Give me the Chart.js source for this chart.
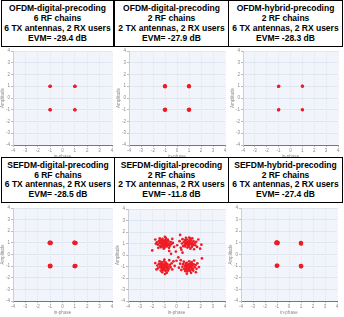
<!DOCTYPE html>
<html>
<head>
<meta charset="utf-8">
<script src="https://cdn.jsdelivr.net/npm/chart.js@4"></script>
<style>
body{margin:0;background:#fff;width:344px;height:317px;overflow:hidden;position:relative;font-family:"Liberation Sans",Arial,sans-serif}
.ttl{position:absolute;box-sizing:border-box;border:1.5px solid #000;background:#fff;font-weight:bold;font-size:8.5px;text-align:center;color:#000;white-space:nowrap}
.pl{position:absolute}
</style>
</head>
<body>
<script>
// panel titles
const titles = [
  ['OFDM-digital-precoding', '6 RF chains', '6 TX antennas, 2 RX users', 'EVM= -29.4 dB'],
  ['OFDM-digital-precoding', '2 RF chains', '2 TX antennas, 2 RX users', 'EVM= -27.9 dB'],
  ['OFDM-hybrid-precoding', '2 RF chains', '6 TX antennas, 2 RX users', 'EVM= -28.3 dB'],
  ['SEFDM-digital-precoding', '6 RF chains', '6 TX antennas, 2 RX users', 'EVM= -28.5 dB'],
  ['SEFDM-digital-precoding', '2 RF chains', '2 TX antennas, 2 RX users', 'EVM= -11.8 dB'],
  ['SEFDM-hybrid-precoding', '2 RF chains', '6 TX antennas, 2 RX users', 'EVM= -27.4 dB']
];
const axisTicks = [-4, -3, -2, -1, 0, 1, 2, 3, 4];

// received symbols, [in-phase, amplitude]
const ofdmDig6 = [
  [-1.00,1.00],[-0.98,1.02],[-1.02,0.99],
  [1.00,1.00],[1.02,1.01],[0.98,0.99],
  [-1.00,-1.00],[-1.02,-0.99],[-0.98,-1.01],
  [1.00,-1.00],[1.01,-1.02],[0.99,-0.98]
];
const ofdmDig2 = [
  [-1.00,1.00],[-0.96,1.03],[-1.04,0.97],[-0.97,0.96],[-1.03,1.04],
  [1.00,1.00],[1.04,1.03],[0.96,0.97],[1.03,0.96],[0.97,1.04],
  [-1.00,-1.00],[-1.04,-0.97],[-0.96,-1.03],[-1.03,-1.04],[-0.97,-0.96],
  [1.00,-1.00],[1.04,-1.03],[0.96,-0.97],[1.03,-0.96],[0.97,-1.04]
];
const ofdmHyb2 = [
  [-1.00,1.00],[-0.98,1.02],[-1.02,0.98],
  [1.00,1.02],[1.02,1.00],[0.98,1.03],
  [-1.00,-1.00],[-0.98,-0.98],[-1.02,-1.02],
  [1.00,-1.00],[1.02,-1.01],[0.98,-0.99]
];
const sefdmDig6 = [
  [-1.00,1.00],[-0.94,1.04],[-1.05,0.96],[-0.96,0.94],[-1.04,1.06],[-0.93,0.98],[-1.06,1.02],
  [1.00,1.00],[1.06,1.03],[0.95,0.96],[1.05,0.94],[0.94,1.05],[1.08,1.00],[0.97,1.06],
  [-1.00,-0.98],[-1.05,-0.95],[-0.95,-1.04],[-1.04,-1.05],[-0.96,-0.93],[-1.02,-1.00],
  [1.00,-0.98],[1.05,-0.94],[0.95,-1.03],[1.03,-1.04],[0.97,-0.95],[1.07,-0.99]
];
const sefdmDig2 = [
  [-1.00,1.00],[-0.92,1.08],[-1.10,0.95],[-1.05,1.15],[-0.85,0.92],[-1.18,1.05],[-0.95,0.82],[-1.12,0.85],
  [-0.88,1.20],[-1.25,0.98],[-0.78,1.02],[-1.02,1.25],[-1.30,1.15],[-0.70,0.88],[-1.08,0.72],[-0.90,1.32],
  [-1.35,0.80],[-0.65,1.18],[-1.20,1.30],[-0.80,0.75],[-1.40,1.02],[-0.98,0.65],[-1.15,1.40],[-0.60,0.98],
  [-1.45,1.22],[-0.72,1.35],[-1.28,0.68],[-0.55,0.80],[-1.55,0.90],[-0.88,1.48],[-1.62,1.10],[-0.48,1.12],
  [-1.05,0.55],[-1.38,1.45],[-0.62,0.62],[-1.70,0.98],[-0.42,0.95],[-0.95,1.58],[-1.50,0.62],[-0.30,1.05],
  [-0.20,0.70],[-0.60,0.35],[-1.75,1.35],[0.05,0.85],[-0.35,1.40],[-1.03,0.90],[-0.97,1.10],[-1.12,1.12],[-0.86,1.06],
  [-1.20,0.80],[-0.75,1.25],[-1.35,1.28],[-0.82,0.85],[-1.22,1.18],
  [1.00,1.05],[1.08,0.98],[0.92,1.12],[1.15,1.10],[0.85,0.95],[1.05,1.22],[0.95,0.85],[1.22,0.92],
  [0.80,1.18],[1.18,1.28],[0.75,1.02],[1.28,1.05],[1.02,0.72],[0.88,1.35],[1.35,0.88],[0.68,0.88],
  [1.12,1.42],[0.70,1.30],[1.40,1.20],[0.90,0.65],[1.25,0.70],[0.60,1.12],[1.48,1.02],[1.05,1.52],
  [0.55,0.78],[1.55,0.85],[0.78,1.50],[1.30,1.45],[0.45,1.00],[1.62,1.15],[1.15,0.55],[0.50,1.38],
  [1.70,0.70],[0.35,0.62],[1.95,0.55],[2.05,0.90],[0.25,1.20],[1.80,1.35],[0.40,0.45],[1.45,0.50],
  [0.98,1.00],[1.10,1.15],[0.94,1.08],[1.03,0.90],[1.20,1.02],[0.82,1.08],[1.30,0.80],[0.72,0.75],
  [-1.00,-0.95],[-0.92,-1.02],[-1.08,-0.88],[-1.12,-1.05],[-0.85,-0.90],[-1.05,-1.15],[-0.95,-0.78],[-1.20,-0.95],
  [-0.80,-1.10],[-1.15,-0.75],[-0.75,-0.82],[-1.25,-1.12],[-0.98,-1.25],[-0.68,-1.00],[-1.32,-0.88],[-1.10,-1.32],
  [-0.88,-0.65],[-1.38,-1.02],[-0.62,-1.18],[-1.22,-0.62],[-0.90,-1.40],[-1.45,-0.78],[-0.55,-0.85],[-1.30,-1.35],
  [-0.70,-1.35],[-1.02,-0.55],[-1.52,-1.15],[-0.48,-1.05],[-1.18,-1.50],[-0.80,-1.55],[-1.58,-0.92],[-0.40,-0.72],
  [-1.40,-0.55],[-0.95,-1.65],[-1.65,-1.25],[-0.35,-1.25],[-0.25,-0.55],[-1.75,-0.70],[-0.60,-0.45],[-0.15,-0.95],
  [-1.00,-0.40],[-1.04,-1.00],[-0.96,-0.90],[-1.08,-0.98],[-0.78,-1.20],[-1.18,-1.20],[-0.82,-0.78],[-1.28,-0.78],
  [1.00,-0.98],[1.08,-1.05],[0.92,-0.90],[1.15,-0.92],[0.88,-1.08],[1.05,-0.80],[0.95,-1.18],[1.22,-1.10],
  [0.80,-0.85],[1.18,-0.75],[0.75,-1.12],[1.30,-0.95],[1.02,-1.28],[0.70,-0.95],[1.35,-1.18],[0.85,-0.68],
  [1.12,-1.38],[0.62,-1.20],[1.42,-0.82],[0.90,-1.42],[1.25,-0.62],[0.55,-0.80],[1.50,-1.05],[0.72,-1.40],
  [1.38,-1.35],[1.05,-0.55],[0.48,-1.02],[1.58,-0.88],[1.20,-1.55],[0.60,-0.58],[1.65,-1.20],[0.40,-1.30],
  [1.72,-0.72],[0.85,-1.62],[0.30,-0.75],[1.85,-1.05],[0.20,-1.10],[1.45,-0.48],[0.35,-0.45],[1.60,-1.50],
  [0.98,-1.00],[1.10,-0.98],[0.94,-1.02],[1.04,-1.12],[0.80,-1.25],[1.25,-1.25],[0.78,-0.72],[1.30,-0.80],
  [-0.05,0.30],[0.15,-0.20],[-0.45,0.10],[0.50,0.20],[0.00,-0.50],[2.10,-0.30],[-2.00,0.40],[0.30,1.75]
];
const sefdmHyb2 = [
  [-1.00,1.00],[-0.93,1.05],[-1.07,0.95],[-0.95,0.93],[-1.05,1.07],[-0.92,0.98],[-1.08,1.02],[-1.00,1.08],
  [1.00,0.97],[1.04,1.01],[0.96,0.93],[1.03,0.91],[0.97,1.03],
  [-1.00,-0.95],[-1.04,-0.92],[-0.96,-0.99],[-1.03,-1.00],[-0.95,-0.93],
  [1.00,-1.00],[1.05,-1.04],[0.96,-0.96],[1.03,-0.95],[0.98,-1.06]
];
const panelData = [ofdmDig6, ofdmDig2, ofdmHyb2, sefdmDig6, sefdmDig2, sefdmHyb2];
const pointSize = [1.6, 1.7, 1.5, 1.8, 1.35, 1.8];

// layout: title boxes and plot areas [left, top, right, bottom]
const boxes = [[1,0,114,47],[114,0,229,47],[228,0,343,47],[1,157,115,203],[114,157,229,203],[228,157,343,203]];
const plots = [[13,49,113,145],[129,49,226,145],[243,49,339,145],[13,206,113,301],[128,207,226,301],[241,206,338,301]];

const plotBg = {
  id: 'plotBg',
  beforeDraw(chart) {
    const a = chart.chartArea, ctx = chart.ctx;
    ctx.save();
    ctx.fillStyle = '#f1f4fb';
    ctx.fillRect(a.left, a.top, a.width, a.height);
    ctx.restore();
  }
};

function axis(label, isX) {
  return {
    type: 'linear', min: -4, max: 4,
    afterBuildTicks: s => { s.ticks = axisTicks.map(v => ({ value: v })); },
    afterFit: s => { if (isX) s.height = 14; else s.width = 13; },
    ticks: { autoSkip: false, maxRotation: 0, padding: 1, color: '#888', font: { size: 4.5, family: 'Liberation Sans' } },
    grid: { color: '#dce3ee', lineWidth: 0.8, tickLength: 2, tickColor: '#aaa' },
    border: isX ? { display: true, color: '#777', dash: [1, 1] } : { display: true, color: '#c8cfda' },
    title: { display: true, text: label, color: '#888', padding: 0, font: { size: 4.5, family: 'Liberation Sans' } }
  };
}

titles.forEach((t, i) => {
  const b = boxes[i];
  const d = document.createElement('div');
  d.className = 'ttl';
  d.style.left = b[0] + 'px'; d.style.top = b[1] + 'px';
  d.style.width = (b[2] - b[0]) + 'px'; d.style.height = (b[3] - b[1]) + 'px';
  d.style.lineHeight = (i < 3 ? 9.9 : 9.5) + 'px';
  d.style.paddingTop = '3px';
  d.innerHTML = t.join('<br>');
  document.body.appendChild(d);

  const p = plots[i];
  const w = p[2] - p[0] + 13 + 3, h = p[3] - p[1] + 2 + 14;
  const box = document.createElement('div');
  box.className = 'pl';
  box.style.left = (p[0] - 13) + 'px'; box.style.top = (p[1] - 2) + 'px';
  const cv = document.createElement('canvas');
  cv.width = w; cv.height = h;
  box.appendChild(cv);
  document.body.appendChild(box);

  new Chart(cv, {
    type: 'scatter',
    data: {
      datasets: [{
        data: panelData[i].map(q => ({ x: q[0], y: q[1] })),
        backgroundColor: '#ee1d25',
        borderWidth: 0,
        pointRadius: pointSize[i]
      }]
    },
    options: {
      responsive: false,
      animation: false,
      devicePixelRatio: 1,
      layout: { padding: { top: 2, right: 3, left: 0, bottom: 0 } },
      plugins: { legend: { display: false }, tooltip: { enabled: false } },
      scales: { x: axis('in-phase', true), y: axis('Amplitude', false) }
    },
    plugins: [plotBg]
  });
});
</script>
</body>
</html>
